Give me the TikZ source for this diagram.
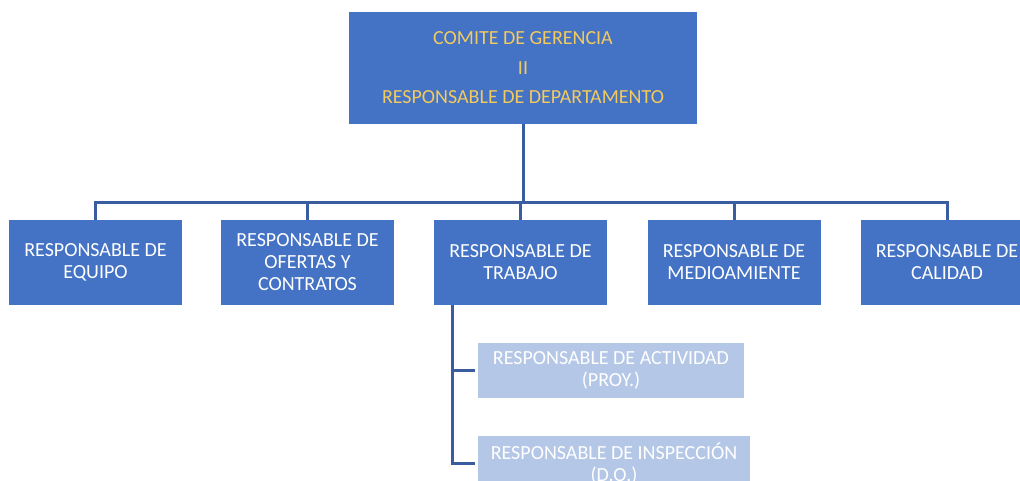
\documentclass[tikz,border=0pt]{standalone}
\usepackage{fontspec}
\setmainfont{Carlito}
\definecolor{boxblue}{HTML}{4472C4}
\definecolor{lightblue}{HTML}{B4C7E7}
\definecolor{linkblue}{HTML}{3A5DA0}
\definecolor{gold}{HTML}{F2CA5E}
\begin{document}
\begin{tikzpicture}[x=1pt,y=-1pt,
  mainbox/.style={fill=boxblue, draw=none, inner sep=0pt, align=center, text=white,
    font=\fontsize{20}{22}\selectfont, minimum width=173pt, minimum height=85pt},
  topbox/.style={fill=boxblue, draw=none, inner sep=0pt, align=center, text=gold,
    font=\fontsize{20}{29.5}\selectfont, minimum width=348pt, minimum height=112pt},
  subbox/.style={fill=lightblue, draw=none, inner sep=0pt, align=center, text=white,
    font=\fontsize{20}{22}\selectfont, minimum height=55pt},
  link/.style={draw=linkblue, line width=3pt}]
\useasboundingbox (0,0) rectangle (1020,480);
\clip (0,0) rectangle (1020,480);
\node[topbox] (top) at (523,68) {COMITE DE GERENCIA\\II\\RESPONSABLE DE DEPARTAMENTO};
\node[mainbox] (b1) at (95.5,262.5) {RESPONSABLE DE\\EQUIPO};
\node[mainbox] (b2) at (307.5,262.5) {RESPONSABLE DE\\OFERTAS Y\\CONTRATOS};
\node[mainbox] (b3) at (520.5,262.5) {RESPONSABLE DE\\TRABAJO};
\node[mainbox] (b4) at (734,262.5) {RESPONSABLE DE\\MEDIOAMIENTE};
\node[mainbox] (b5) at (947,262.5) {RESPONSABLE DE\\CALIDAD};
\node[subbox, minimum width=266pt] (s1) at (611,370.5) {RESPONSABLE DE ACTIVIDAD\\(PROY.)};
\node[subbox, minimum width=272pt] (s2) at (614,463.5) {RESPONSABLE DE INSPECCIÓN\\(D.O.)};
\coordinate (bus) at (523,202);
\coordinate (st) at (452,305);
\draw[link] (top.south) -- (bus);
\foreach \b in {b1,b2,b3,b4,b5} \draw[link] (bus) -| (\b.north);
\draw[link, shorten >=3pt] (st) |- (s1.west);
\draw[link, shorten >=3pt] (st) |- (s2.west);
\end{tikzpicture}
\end{document}
